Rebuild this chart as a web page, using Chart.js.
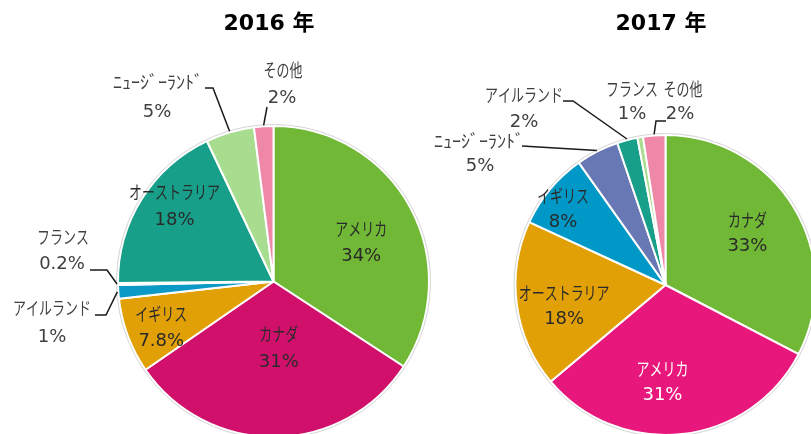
<!DOCTYPE html>
<html><head><meta charset="utf-8">
<script src="https://cdn.jsdelivr.net/npm/chart.js@4"></script>
<style>
html,body{margin:0;padding:0;background:#fff;overflow:hidden;}
#wrap{position:relative;width:811px;height:434px;overflow:hidden;background:#fff;}
canvas{position:absolute;left:0;top:0;}
</style></head><body>
<div id="wrap"><canvas id="c2016" width="840" height="480"></canvas><canvas id="c2017" width="840" height="480"></canvas></div>
<script>
// ---- data ----
const title2016 = '2016 年';
const title2017 = '2017 年';
const countries2016 = ['アメリカ','カナダ','イギリス','アイルランド','フランス','オーストラリア','ﾆｭｰｼﾞｰﾗﾝﾄﾞ','その他'];
const values2016 = [34, 31, 7.8, 1.4, 0.2, 18, 5, 2];
const pctLabels2016 = ['34%','31%','7.8%','1%','0.2%','18%','5%','2%'];
const countries2017 = ['カナダ','アメリカ','オーストラリア','イギリス','ﾆｭｰｼﾞｰﾗﾝﾄﾞ','アイルランド','フランス','その他'];
const values2017 = [32.6, 31.2, 18, 8.3, 4.6, 2.2, 0.6, 2.4];
const pctLabels2017 = ['33%','31%','18%','8%','5%','2%','1%','2%'];

// ---- styles ----
const colors2016 = ['#70B835','#D0106B','#E2A007','#0B99C6','#C3D0EC','#179F8A','#A8DC8F','#EF87A7'];
const colors2017 = ['#70B835','#E8177C','#E2A007','#0099C7','#6878B4','#179F8A','#A8DC8F','#EF87A7'];

const layout2016 = {
  title:{x:269, y:24},
  radius:155.5, padding:{left:116, right:409, top:125, bottom:42},
  gap:27.5,
  inside:[
    {i:0, f:0.617, da:4.5, color:'#2a2a2a'},
    {i:1, f:0.43, da:-3.8, color:'#2a2a2a'},
    {i:2, f:0.78, da:-1.8, color:'#2a2a2a'},
    {i:5, f:0.80, da:5.2, color:'#2a2a2a'}
  ],
  outside:[
    {i:6, name:[158,82], value:[157,112], leader:[[205,88],[213,88]]},
    {i:7, name:[283,70], value:[282,98], leader:[[267,107]]},
    {i:4, name:[63,237], value:[62,264], leader:[[90,270],[107,270]]},
    {i:3, name:[52,308], value:[52,337], leader:[[95,315],[106,315]]}
  ]
};
const layout2017 = {
  title:{x:661, y:24},
  radius:150, padding:{left:514, right:23, top:134, bottom:44},
  gap:26.5,
  inside:[
    {i:0, f:0.645, da:-0.9, color:'#2a2a2a'},
    {i:1, f:0.65, da:8.1, color:'#fff'},
    {i:2, f:0.69, da:-4.1, color:'#2a2a2a'},
    {i:3, f:0.85, da:-3.2, color:'#2a2a2a'}
  ],
  outside:[
    {i:5, name:[524,95], value:[524,122], leader:[[563,101],[573,101]]},
    {i:6, name:[632,89], value:[632,114]},
    {i:7, name:[683,89], value:[680,114], leader:[[666,121],[656,121]]},
    {i:4, name:[479,141], value:[480,166], leader:[[522,146]]}
  ]
};

const NAME_FONT = "18px 'Noto Sans CJK JP'";
const VALUE_FONT = "18px 'DejaVu Sans', 'Noto Sans CJK JP'";
const TITLE_FONT = "bold 22px 'DejaVu Sans', 'Noto Sans CJK JP'";

function drawName(ctx, text, x, y, color){
  const half = /[\uFF61-\uFF9F]/.test(text);
  const sx = half ? 1.0 : 0.72;
  ctx.save();
  ctx.font = NAME_FONT; ctx.fillStyle = color;
  ctx.textAlign = 'center'; ctx.textBaseline = 'middle';
  ctx.translate(x, y); ctx.scale(sx, 1);
  ctx.fillText(text, 0, 0);
  ctx.restore();
}
function drawValue(ctx, text, x, y, color){
  ctx.save();
  ctx.font = VALUE_FONT; ctx.fillStyle = color;
  ctx.textAlign = 'center'; ctx.textBaseline = 'middle';
  ctx.fillText(text, x, y);
  ctx.restore();
}

function makeLabelPlugin(names, pcts, lay, title){
  return {
    id:'pieLabels',
    afterDatasetsDraw(chart){
      const ctx = chart.ctx;
      const arcs = chart.getDatasetMeta(0).data;
      const a0 = arcs[0];
      ctx.save();
      ctx.beginPath();
      ctx.arc(a0.x, a0.y, a0.outerRadius + 1.5, 0, Math.PI*2);
      ctx.strokeStyle = '#d4d4d4'; ctx.lineWidth = 1;
      ctx.stroke();
      ctx.restore();
      ctx.save();
      ctx.font = TITLE_FONT; ctx.fillStyle = '#000';
      ctx.textAlign = 'center'; ctx.textBaseline = 'middle';
      ctx.fillText(title, lay.title.x, lay.title.y);
      ctx.restore();
      lay.inside.forEach(s => {
        const arc = arcs[s.i];
        const mid = (arc.startAngle + arc.endAngle)/2 + s.da*Math.PI/180;
        const r = arc.outerRadius * s.f;
        const x = arc.x + Math.cos(mid)*r, y = arc.y + Math.sin(mid)*r;
        drawName(ctx, names[s.i], x, y - lay.gap/2, s.color);
        drawValue(ctx, pcts[s.i], x, y + lay.gap/2, s.color);
      });
      lay.outside.forEach(s => {
        const arc = arcs[s.i];
        drawName(ctx, names[s.i], s.name[0], s.name[1], '#404040');
        drawValue(ctx, pcts[s.i], s.value[0], s.value[1], '#404040');
        if (s.leader){
          const mid = (arc.startAngle + arc.endAngle)/2;
          const R = arc.outerRadius + 1;
          const ex = arc.x + Math.cos(mid)*R, ey = arc.y + Math.sin(mid)*R;
          ctx.save();
          ctx.beginPath();
          ctx.moveTo(s.leader[0][0], s.leader[0][1]);
          for (let k=1;k<s.leader.length;k++) ctx.lineTo(s.leader[k][0], s.leader[k][1]);
          ctx.lineTo(ex, ey);
          ctx.strokeStyle = '#1a1a1a'; ctx.lineWidth = 1.5;
          ctx.stroke();
          ctx.restore();
        }
      });
    }
  };
}

function makePie(id, names, values, pcts, colors, lay, title){
  return new Chart(document.getElementById(id), {
    type:'pie',
    data:{ labels:names, datasets:[{ data:values, backgroundColor:colors, borderColor:'#ffffff', borderWidth:2 }] },
    options:{
      responsive:false, animation:false, radius:lay.radius,
      layout:{ padding:lay.padding },
      plugins:{ legend:{display:false}, tooltip:{enabled:false}, title:{display:false} }
    },
    plugins:[makeLabelPlugin(names, pcts, lay, title)]
  });
}

makePie('c2016', countries2016, values2016, pctLabels2016, colors2016, layout2016, title2016);
makePie('c2017', countries2017, values2017, pctLabels2017, colors2017, layout2017, title2017);
</script>
</body></html>
